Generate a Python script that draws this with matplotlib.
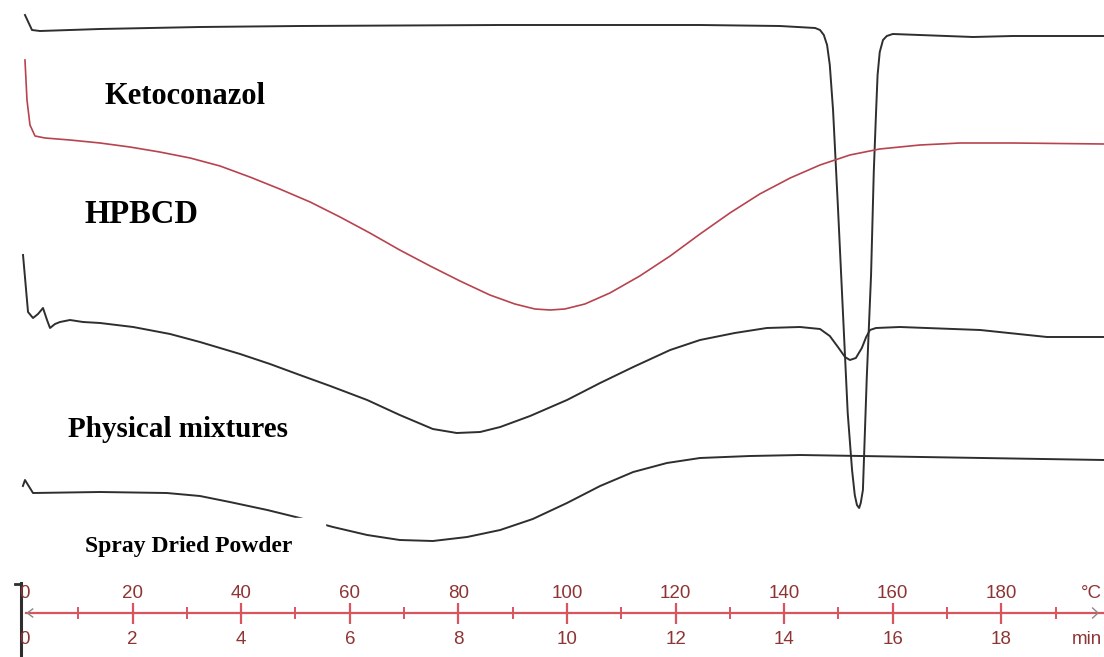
import matplotlib.pyplot as plt
import numpy as np
from matplotlib.patches import Rectangle

# DSC thermograms, temperature in degC, signal (row, downwards = endo)
keto_t = [0.18, 1.47, 2.95, 14.0, 32.4, 50.8, 87.7, 124.5, 139.2, 145.7, 146.6, 147.3,
          147.9, 148.4, 149.0, 149.9, 150.8, 151.7, 152.5, 153.0, 153.4, 153.8, 154.1,
          154.5, 155.2, 156.0, 156.5, 156.9, 157.2, 157.6, 158.2, 158.9, 160.0, 174.8,
          182.1, 198.9]
keto_y = [15, 30, 31, 29, 27, 26, 25, 25, 26, 28, 30, 35,
          45, 65, 110, 207, 310, 413, 470, 495, 505, 508, 503,
          490, 379, 275, 172, 115, 75, 52, 40, 36, 34, 37,
          36, 36]

hpbcd_t = [0.18, 0.55, 1.10, 2.03, 3.87, 8.47, 14.0, 19.5, 25.0, 30.6, 36.1, 41.6,
           47.1, 52.7, 58.2, 63.7, 69.2, 74.8, 80.3, 85.8, 90.4, 94.1, 96.9, 99.6,
           103.3, 107.9, 113.4, 119.0, 124.5, 130.0, 135.5, 141.1, 146.6, 152.1,
           157.6, 165.0, 172.4, 182.1, 198.9]
hpbcd_y = [60, 100, 125, 136, 138, 140, 143, 147, 152, 158, 166, 177,
           189, 202, 217, 233, 250, 266, 281, 295, 304, 309, 310, 309,
           304, 293, 276, 256, 234, 213, 194, 178, 165, 155,
           149, 145, 143, 143, 144]

phys_t = [-0.18, 0.74, 1.66, 2.58, 3.50, 4.24, 4.79, 5.71, 6.63, 8.47, 10.87, 14.0,
          20.1, 26.9, 32.4, 39.8, 45.3, 50.8, 56.4, 63.2, 69.2, 75.3, 79.7, 84.0,
          87.7, 93.2, 100.0, 106.1, 112.2, 119.0, 124.5, 130.9, 136.8, 142.9, 146.6,
          148.4, 149.9, 151.2, 152.1, 153.2, 154.3, 155.1, 155.8, 156.9, 161.3,
          176.1, 188.4, 198.9]
phys_y = [255, 312, 318, 314, 308, 320, 328, 324, 322, 320, 322, 323,
          327, 334, 342, 354, 364, 375, 386, 400, 415, 429, 433, 432,
          427, 416, 400, 383, 367, 350, 340, 333, 328, 327, 329,
          336, 347, 357, 360, 358, 348, 337, 330, 328, 327,
          330, 337, 337]

spray_t = [-0.2, 0.18, 1.66, 14.0, 26.3, 32.4, 37.9, 44.8, 50.8, 56.9, 63.2, 69.2,
           75.3, 81.6, 87.7, 93.7, 100.0, 106.1, 112.2, 118.4, 124.5, 133.7, 142.9,
           198.9]
spray_y = [486, 480, 493, 492, 493, 496, 502, 510, 518, 527, 535, 540,
           541, 537, 530, 519, 503, 486, 472, 463, 458, 456, 455,
           460]

temp_ticks = list(range(10, 200, 10))
temp_labels = ['0', '20', '40', '60', '80', '100', '120', '140', '160', '180']
time_labels = ['0', '2', '4', '6', '8', '10', '12', '14', '16', '18']

black = '#2e2e2e'
red_line = '#b8434e'
scale_red = '#d9545c'
scale_text = '#8e3434'

fig = plt.figure(figsize=(11.04, 6.57), dpi=100)
ax = fig.add_axes([0, 0, 1, 1])
ax.set_xlim(-4.42, 198.9)
ax.set_ylim(657, 0)
ax.axis('off')

ax.plot(keto_t, keto_y, color=black, lw=1.4)
ax.plot(hpbcd_t, hpbcd_y, color=red_line, lw=1.2)
ax.plot(phys_t, phys_y, color=black, lw=1.4)
ax.plot(spray_t, spray_y, color=black, lw=1.4)

serif = ['Liberation Serif', 'DejaVu Serif']
ax.text(14.9, 104, 'Ketoconazol', family=serif, weight='bold', fontsize=22)
ax.text(11.2, 223, 'HPBCD', family=serif, weight='bold', fontsize=23.5)
ax.text(8.1, 437, 'Physical mixtures', family=serif, weight='bold', fontsize=21)
ax.add_patch(Rectangle((50.0, 518), 5.5, 14, color='white', zorder=3))
ax.text(11.2, 552, 'Spray Dried Powder', family=serif, weight='bold', fontsize=17, zorder=4)

# instrument scale at the bottom
ax.plot([0.3, 198.9], [613, 613], color=scale_red, lw=1.6)
major = [t for t in temp_ticks if t % 20 == 0]
minor = [t for t in temp_ticks if t % 20 != 0]
ax.vlines(major, 603, 624, color=scale_red, lw=1.6)
ax.vlines(minor, 607, 619, color=scale_red, lw=1.4)
ax.plot([1.6, 0.6, 1.6], [609, 613, 617], color='#888888', lw=1.0)
ax.plot([196.8, 197.8, 196.8], [608, 613, 618], color='#888888', lw=1.0)
ax.plot([-0.6, -0.6], [583, 657], color=black, lw=2.2)
ax.plot([-1.6, -0.6], [584, 584], color=black, lw=2.0)

sans = ['Liberation Sans', 'DejaVu Sans']
for i, lab in enumerate(temp_labels):
    ax.text(i * 20, 593, lab, ha='center', va='center', family=sans,
            fontsize=13.5, color=scale_text)
for i, lab in enumerate(time_labels):
    ax.text(i * 20, 639, lab, ha='center', va='center', family=sans,
            fontsize=13.5, color=scale_text)
ax.text(198.6, 593, '°C', ha='right', va='center', family=sans, fontsize=13.5, color=scale_text)
ax.text(198.6, 639, 'min', ha='right', va='center', family=sans, fontsize=13.5, color=scale_text)

fig.savefig('out.png', dpi=100)
